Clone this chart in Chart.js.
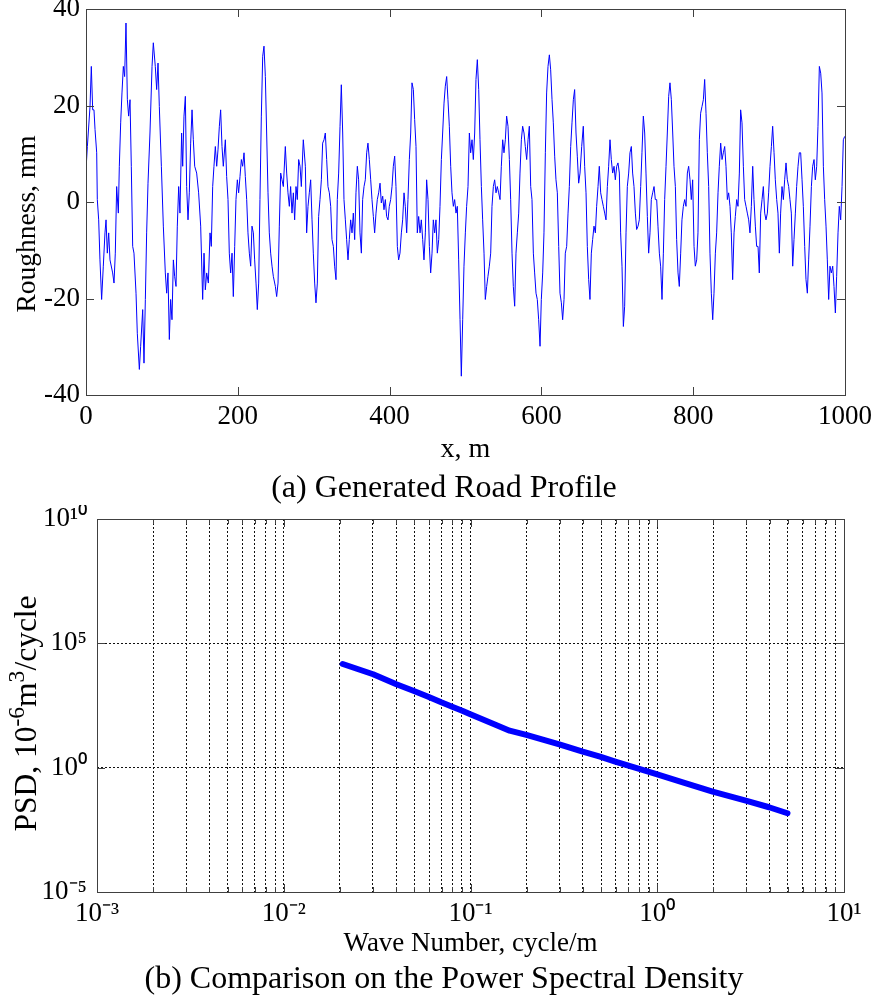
<!DOCTYPE html>
<html>
<head>
<meta charset="utf-8">
<script src="https://cdn.jsdelivr.net/npm/chart.js@4.4.1/dist/chart.umd.min.js"></script>
<style>
html,body{margin:0;padding:0;background:#fff;}
#wrap{position:relative;width:878px;height:1005px;overflow:hidden;}
#c1{position:absolute;left:0;top:0;}
#c2{position:absolute;left:0;top:505px;}
</style>
</head>
<body>
<div id="wrap">
<canvas id="c1" width="878" height="505"></canvas>
<canvas id="c2" width="878" height="500"></canvas>
</div>
<script>
// ---------- (a) Generated road profile ----------
const profileX = [
0.0,1.8,5.3,7.0,8.8,10.5,11.9,14.1,14.9,16.7,
18.4,20.6,22.8,25.0,26.4,28.1,29.9,31.6,35.1,36.9,
38.6,40.4,42.6,43.9,45.7,47.4,49.2,50.9,52.7,54.5,
56.2,58.0,59.7,61.5,63.2,65.9,67.6,70.3,72.0,74.7,
76.4,78.2,79.9,81.7,84.3,87.0,88.7,91.3,93.1,94.9,
96.6,99.3,101.9,104.5,106.3,108.0,109.8,111.5,113.3,115.1,
116.8,118.6,120.3,122.1,123.8,126.0,127.4,129.1,130.9,132.6,
134.4,136.1,137.9,139.7,141.4,143.2,145.8,148.4,151.1,153.7,
155.5,157.2,159.0,161.2,163.4,165.1,166.9,168.6,170.4,172.2,
173.9,175.7,177.4,179.2,180.9,183.6,185.3,187.1,188.8,190.6,
192.4,194.1,195.9,197.6,199.4,201.1,202.9,204.7,206.4,208.2,
209.9,211.7,213.4,215.2,217.0,218.7,220.5,222.2,224.0,225.7,
227.5,229.2,231.0,232.8,234.5,236.3,238.0,239.8,241.5,243.3,
245.1,246.8,249.5,251.2,253.0,254.7,256.5,258.2,260.0,262.6,
264.4,266.1,267.9,269.6,271.4,273.2,274.9,276.7,278.4,280.2,
282.0,283.7,286.3,289.0,290.7,292.5,294.2,296.0,297.8,299.5,
301.3,303.0,304.8,306.5,308.3,310.1,311.8,313.6,315.3,317.1,
318.8,320.6,322.4,324.1,325.9,327.6,329.4,331.1,332.9,334.7,
336.4,338.2,339.9,341.7,343.4,345.2,346.9,348.7,350.5,352.2,
354.0,355.7,357.5,359.2,361.0,362.8,364.5,366.3,368.0,369.8,
371.5,373.3,375.1,376.8,378.6,380.3,382.1,383.8,385.6,387.4,
389.1,390.9,392.6,394.4,396.1,397.9,399.6,401.4,403.2,404.9,
406.7,408.4,410.2,411.9,413.7,415.5,417.2,419.0,420.7,422.5,
424.2,426.0,427.8,429.5,431.3,433.0,434.8,436.5,438.3,440.1,
441.8,443.6,445.3,447.1,448.8,450.6,452.4,454.1,455.9,457.6,
459.4,461.1,462.9,464.7,466.4,468.2,469.9,471.7,473.4,475.2,
476.9,478.7,480.5,482.2,484.0,485.7,487.5,489.2,491.0,492.8,
494.5,496.3,498.0,499.8,501.5,503.3,505.1,506.8,508.6,510.3,
512.1,513.8,515.6,517.4,519.1,520.9,522.6,524.4,526.1,527.9,
529.6,531.4,533.2,534.9,536.7,538.4,540.2,541.9,543.7,545.5,
547.2,549.0,550.7,552.5,554.2,556.0,557.8,559.5,561.3,563.0,
564.8,566.5,568.3,570.1,571.8,573.6,575.3,577.1,578.8,580.6,
582.4,584.1,585.9,587.6,589.4,591.1,592.9,594.6,596.4,598.2,
599.9,601.7,603.4,605.2,606.9,608.7,610.5,612.2,614.0,615.7,
617.5,619.2,621.0,622.8,624.5,626.3,628.0,629.8,631.5,633.3,
635.1,636.8,638.6,640.3,642.1,643.8,645.6,647.3,649.1,
650.9,653.1,655.2,657.0,658.8,660.5,662.3,664.0,665.8,667.5,
669.3,671.1,672.8,674.6,676.3,678.1,679.8,681.6,683.4,685.1,
686.9,688.6,690.4,692.1,693.9,695.7,697.4,699.2,700.9,702.7,
704.4,706.2,708.0,709.7,711.5,713.2,715.0,716.7,718.5,720.2,
722.0,723.8,725.5,727.3,729.0,730.8,732.5,734.3,736.1,737.8,
739.6,741.3,743.1,744.8,746.6,748.4,750.1,751.9,753.6,755.4,
757.1,758.9,760.7,762.4,764.2,765.9,767.7,769.4,771.2,773.0,
774.7,776.5,778.2,780.0,781.7,783.5,785.2,787.0,788.8,790.5,
792.3,794.0,795.8,797.5,799.3,801.1,802.8,804.6,806.3,808.1,
809.8,811.6,813.4,815.1,816.9,818.6,820.4,822.1,823.9,825.7,
827.4,829.2,830.9,832.7,834.4,836.2,838.0,839.7,841.5,843.2,
845.0,846.7,848.5,850.2,852.0,853.8,855.5,857.3,859.0,860.8,
862.5,864.3,866.1,867.8,869.6,871.3,873.1,874.8,876.6,878.4,
880.1,881.9,883.6,885.4,887.1,888.9,890.7,892.4,894.2,895.9,
897.7,899.4,901.2,903.0,904.7,906.5,908.2,910.0,911.7,913.5,
915.2,917.0,918.8,920.5,922.3,924.0,925.8,927.5,929.3,931.1,
932.8,934.6,936.3,938.1,939.8,941.6,943.4,945.1,946.9,948.6,
950.4,952.1,953.9,955.7,957.4,959.2,960.9,962.7,964.4,966.2,
968.0,969.7,971.5,973.2,975.0,976.7,978.5,980.2,982.0,983.8,
985.5,987.3,989.0,990.8,992.5,994.3,996.1,997.8,999.6
];
const profileY = [
6.7,11.5,19.8,28.1,19.1,19.1,15.0,10.2,0.5,-3.7,
-12.0,-20.2,-13.3,-6.4,-3.7,-10.6,-6.4,-12.0,-14.7,-16.8,
-10.6,3.2,-2.3,7.4,16.4,22.6,28.1,26.0,37.1,21.2,
17.8,21.2,7.4,-9.2,-10.6,-18.9,-27.2,-34.7,-29.9,-22.3,
-33.4,-20.2,-6.4,3.9,14.3,28.1,33.0,28.1,23.3,28.8,
19.8,7.4,-5.0,-14.7,-18.9,-14.7,-28.5,-20.2,-24.4,-12.0,
-15.4,-17.5,-5.0,3.2,-2.3,14.3,7.4,17.8,21.9,3.2,
-3.7,1.9,12.2,19.1,12.9,7.4,6.0,1.9,-5.0,-20.2,
-10.6,-18.2,-14.7,-16.8,-6.4,-9.2,3.2,7.4,11.5,7.4,
10.8,15.7,19.1,11.5,7.4,12.9,5.3,0.5,-10.6,-14.7,
-10.6,-19.6,-9.2,0.5,4.6,1.9,5.3,8.8,7.4,10.2,
5.3,0.5,-6.4,-10.6,-13.3,-5.0,-6.4,-12.0,-16.8,-22.3,
-16.8,0.5,17.8,30.2,32.3,26.0,14.3,1.9,-6.4,-10.6,
-13.3,-15.4,-17.5,-19.6,-16.8,-5.0,6.0,4.6,3.2,11.5,
6.0,1.9,-0.9,3.2,-2.3,1.9,-3.7,3.2,0.5,8.8,
7.4,3.2,12.9,7.4,-6.4,-0.9,1.9,4.6,-3.7,-10.6,
-16.8,-20.9,-16.8,-3.0,0.5,4.6,12.2,12.9,14.3,8.8,
3.2,1.9,-0.9,-7.8,-9.2,-13.3,-16.1,0.5,6.0,15.7,
24.3,14.3,0.5,-3.7,-7.8,-12.0,-7.8,-3.7,-6.4,-2.3,
-7.8,1.9,7.4,4.6,-6.4,-10.6,0.5,3.2,4.6,10.2,
12.2,8.8,4.6,0.5,-3.0,-6.4,-2.3,0.5,1.9,3.9,
-0.2,1.2,-1.6,0.5,-3.0,-3.7,-0.9,0.5,3.2,7.4,
9.5,3.2,-9.2,-12.0,-10.6,-6.4,-3.7,1.9,-0.9,-6.4,
0.5,8.8,14.3,24.7,23.3,17.1,11.5,-6.4,-3.0,-6.4,
-3.7,-7.8,-12.0,-6.4,4.6,0.5,-9.2,-14.7,-10.6,-3.7,
-6.4,-3.7,-10.6,-7.8,-0.9,8.8,14.3,20.5,24.0,26.0,
21.2,15.7,7.4,1.9,-0.9,0.5,-2.3,-0.9,-12.0,-24.4,
-36.1,-24.4,-13.3,-6.4,-0.9,3.2,14.3,10.2,12.9,8.8,
14.3,25.4,29.5,23.3,12.9,3.2,-3.7,-10.6,-20.2,-17.5,
-15.4,-13.3,-10.6,-0.9,3.2,4.6,1.9,3.2,1.9,0.5,
7.4,12.9,10.2,12.9,17.8,15.7,8.8,0.5,-10.6,-17.5,
-21.6,-10.6,-6.4,-2.3,6.0,12.9,15.7,14.3,11.5,8.8,
12.9,15.7,3.2,0.5,-10.6,-14.7,-18.9,-20.2,-24.4,-29.9,
-20.2,-14.7,-6.4,10.2,22.6,28.1,30.5,27.4,21.2,16.4,
9.5,4.6,1.9,-9.2,-18.9,-20.9,-24.4,-20.2,-10.6,-9.2,
-2.3,3.2,11.5,16.4,21.2,23.3,14.3,9.5,3.9,
6.0,11.5,15.7,7.4,1.9,-9.2,-16.1,-20.2,-10.6,-7.8,
-5.0,-6.4,-0.9,3.2,7.4,1.9,0.5,-0.9,-2.3,-3.7,
3.2,7.4,12.9,8.8,6.0,7.4,4.6,7.4,8.1,6.0,
-6.4,-13.3,-25.8,-21.6,-6.4,3.2,6.0,10.2,11.5,6.0,
3.2,-2.3,-5.7,-5.0,-3.7,3.2,10.2,17.8,14.3,6.0,
-3.0,-10.6,-6.4,0.5,1.9,3.2,0.5,0.5,-5.0,-10.6,
-13.3,-20.2,-10.6,0.5,7.4,14.3,21.9,24.7,21.2,14.3,
7.4,3.2,-7.8,-14.7,-17.5,-10.6,-3.7,-0.9,0.5,-0.9,
6.0,7.4,4.6,0.5,4.6,-9.2,-13.3,-12.0,-6.4,12.9,
18.4,19.8,21.2,25.4,18.4,10.2,3.2,-10.6,-18.9,-24.4,
-18.9,-10.6,-6.4,1.9,7.4,12.2,8.8,10.2,11.5,7.4,
0.5,1.9,-0.9,-6.4,-16.1,-6.4,-3.0,0.5,-0.9,6.0,
19.1,16.4,7.4,0.5,-0.9,-2.3,-3.7,-6.4,-0.9,7.4,
0.5,-5.0,-9.2,-9.2,-14.7,-2.3,0.5,3.2,-2.3,-3.7,
-2.3,1.9,7.4,11.5,15.7,10.2,4.6,0.5,-2.3,-10.6,
-2.3,3.2,0.5,4.6,8.1,4.6,3.2,0.5,-2.3,-13.3,
-7.8,-2.3,3.2,7.4,10.2,10.2,4.6,-0.9,-9.2,-16.1,
-18.9,-12.0,-5.0,3.2,7.4,8.8,4.6,7.4,15.7,28.1,
26.7,22.6,7.4,0.5,-5.0,-12.0,-20.2,-13.3,-14.7,-13.3,
-17.5,-23.0,-15.4,-6.4,-0.9,-3.7,3.2,12.9,13.6
];
const profileXTicks = [0, 200, 400, 600, 800, 1000];
const profileYTicks = [-40, -20, 0, 20, 40];

// ---------- (b) Power spectral density ----------
const psdWaveNumber = [0.0207,0.0301,0.0401,0.0498,0.0594,0.0697,0.0798,0.0903,0.0991,0.137,0.162,0.199,0.299,0.399,0.494,0.596,0.708,0.801,1.00,1.37,1.98,2.98,3.97,4.98];
const psdValue      = [14800,5700,2250,1210,716,427,284,196,144,52.1,30.8,20.7,8.73,4.40,2.77,1.74,1.17,0.887,0.533,0.259,0.108,0.0471,0.0256,0.0147];
const psdXDecades = [0.001, 0.01, 0.1, 1, 10];
const psdXDecadeLabels = ['10\u207B\u00B3', '10\u207B\u00B2', '10\u207B\u00B9', '10\u2070', '10\u00B9'];
const psdXMinorSteps = [1, 2, 3, 4, 5, 6, 7, 8, 9];
const psdYTicks = [1e-5, 1, 1e5, 1e10];
const psdYTickLabels = ['10\u207B\u2075', '10\u2070', '10\u2075', '10\u00B9\u2070'];

const captionA = '(a) Generated Road Profile';
const captionB = '(b) Comparison on the Power Spectral Density';
const xTitleA = 'x, m';
const yTitleA = [{text: 'Roughness, mm'}];
const xTitleB = 'Wave Number, cycle/m';
const yTitleB = [{text: 'PSD, 10'}, {text: '-6', sup: true}, {text: 'm'}, {text: '3', sup: true}, {text: '/cycle'}];

const FONT = "'Liberation Serif','Times New Roman',serif";
Chart.defaults.font.family = FONT;
Chart.defaults.color = '#000';

// Frame + inward tick marks (MATLAB style), drawn from the scales themselves
const frameTicks = {
  id: 'frameTicks',
  afterDatasetsDraw(chart, args, opts) {
    const {ctx, chartArea: a} = chart;
    ctx.save();
    ctx.setLineDash([]);
    ctx.lineWidth = 1;
    ctx.strokeStyle = opts.color || '#404040';
    const xs = chart.scales.x, ys = chart.scales.y;
    const isMaj = opts.isMajor || (() => true);
    ctx.beginPath();
    xs.ticks.forEach(t => {
      const p = Math.round(xs.getPixelForValue(t.value)) + 0.5;
      if (p <= a.left + 1 || p >= a.right - 1) return;
      const len = isMaj(t.value, 'x') ? opts.majorLen : opts.minorLen;
      ctx.moveTo(p, a.bottom); ctx.lineTo(p, a.bottom - len);
      ctx.moveTo(p, a.top); ctx.lineTo(p, a.top + len);
    });
    ys.ticks.forEach(t => {
      const p = Math.round(ys.getPixelForValue(t.value)) + 0.5;
      if (p <= a.top + 1 || p >= a.bottom - 1) return;
      const len = isMaj(t.value, 'y') ? opts.majorLen : opts.minorLen;
      ctx.moveTo(a.left, p); ctx.lineTo(a.left + len, p);
      ctx.moveTo(a.right, p); ctx.lineTo(a.right - len, p);
    });
    ctx.stroke();
    ctx.strokeRect(Math.round(a.left) + 0.5, Math.round(a.top) + 0.5,
                   Math.round(a.right - a.left), Math.round(a.bottom - a.top));
    ctx.restore();
  }
};

// Rotated y-axis title with real superscripts, placed relative to the y scale
const yAxisTitle = {
  id: 'yAxisTitle',
  afterDraw(chart, args, o) {
    if (!o.segments) return;
    const s = chart.scales.y, ctx = chart.ctx;
    const supSize = o.size * o.supScale;
    ctx.save();
    let total = 0;
    const w = o.segments.map(g => {
      ctx.font = (g.sup ? supSize : o.size) + 'px ' + FONT;
      const m = ctx.measureText(g.text).width;
      total += m;
      return m;
    });
    ctx.translate(o.baselineX, (s.top + s.bottom) / 2 + o.offsetY);
    ctx.rotate(-Math.PI / 2);
    ctx.textAlign = 'left';
    ctx.textBaseline = 'alphabetic';
    ctx.fillStyle = '#000';
    let x = -total / 2;
    o.segments.forEach((g, i) => {
      ctx.font = (g.sup ? supSize : o.size) + 'px ' + FONT;
      ctx.fillText(g.text, x, g.sup ? -o.size * o.supRaise : 0);
      x += w[i];
    });
    ctx.restore();
  }
};

// empty right-hand spacer axis (keeps the caption centred like the original)
const spacerAxis = w => ({
  type: 'linear', position: 'right', display: true,
  grid: {display: false, drawTicks: false},
  ticks: {display: false},
  border: {display: false},
  afterFit: s => { s.width = w; s.paddingTop = 0; s.paddingBottom = 0; }
});

// ----- Chart (a)
new Chart(document.getElementById('c1'), {
  type: 'line',
  data: {
    datasets: [{
      data: profileX.map((x, i) => ({x: x, y: profileY[i]})),
      borderColor: '#0000ff',
      borderWidth: 1,
      pointRadius: 0,
      tension: 0
    }]
  },
  options: {
    responsive: false,
    animation: false,
    events: [],
    layout: {padding: {top: 9, right: 0, left: 10, bottom: 0}},
    plugins: {
      legend: {display: false},
      tooltip: {enabled: false},
      title: {
        display: true, position: 'bottom', text: captionA, color: '#000',
        font: {family: FONT, size: 32, weight: 'normal', lineHeight: 1.0},
        padding: {top: 0, bottom: 0}
      },
      frameTicks: {color: '#404040', majorLen: 8, minorLen: 8},
      yAxisTitle: {segments: yTitleA, size: 27.5, supScale: 0.7, supRaise: 0.38, baselineX: 35, offsetY: 22}
    },
    scales: {
      x: {
        type: 'linear', min: 0, max: 1000,
        afterBuildTicks: s => { s.ticks = profileXTicks.map(v => ({value: v})); },
        ticks: {font: {family: FONT, size: 27, lineHeight: 1.2}, color: '#000', padding: 6, maxRotation: 0, autoSkip: false,
                callback: v => String(v)},
        grid: {display: false, drawTicks: false},
        border: {display: false},
        title: {display: true, text: xTitleA, color: '#000', font: {family: FONT, size: 28, lineHeight: 1.2}, padding: {top: 0, bottom: 7}},
        afterFit: s => { s.height = 78; s.paddingLeft = 0; s.paddingRight = 0; }
      },
      y: {
        type: 'linear', min: -40, max: 40,
        afterBuildTicks: s => { s.ticks = profileYTicks.map(v => ({value: v})); },
        ticks: {font: {family: FONT, size: 27, lineHeight: 1.2}, color: '#000', padding: 6, callback: v => String(v)},
        grid: {display: false, drawTicks: false},
        border: {display: false},
        title: {display: false},
        afterFit: s => { s.width = 76; s.paddingTop = 0; s.paddingBottom = 0; }
      },
      yRight: spacerAxis(33)
    }
  },
  plugins: [frameTicks, yAxisTitle]
});

// ----- Chart (b)
const isPow10 = v => Math.abs(Math.log10(v) - Math.round(Math.log10(v))) < 1e-6;
const psdXTicks = [];
psdXDecades.slice(0, -1).forEach(d => psdXMinorSteps.forEach(k => psdXTicks.push(k * d)));
psdXTicks.push(psdXDecades[psdXDecades.length - 1]);

const psdPoints = psdWaveNumber.map((n, i) => ({x: n, y: psdValue[i]}));

new Chart(document.getElementById('c2'), {
  type: 'line',
  data: {
    datasets: [
      {
        label: 'Theory', data: psdPoints, borderColor: '#ff0000', borderWidth: 1.5,
        pointRadius: 0, tension: 0, order: 2
      },
      {
        label: 'Generated', data: psdPoints, borderColor: '#0000ff', borderWidth: 6,
        borderCapStyle: 'round', borderJoinStyle: 'round',
        pointRadius: 0, tension: 0, order: 1
      }
    ]
  },
  options: {
    responsive: false,
    animation: false,
    events: [],
    layout: {padding: {top: 14, right: 0, left: 10, bottom: 0}},
    plugins: {
      legend: {display: false},
      tooltip: {enabled: false},
      title: {
        display: true, position: 'bottom', text: captionB, color: '#000',
        font: {family: FONT, size: 32, weight: 'normal', lineHeight: 1.2},
        padding: {top: 0, bottom: 6}
      },
      frameTicks: {
        color: '#404040', majorLen: 8, minorLen: 5,
        isMajor: (v, ax) => ax === 'y' ? true : isPow10(v)
      },
      yAxisTitle: {segments: yTitleB, size: 31.5, supScale: 0.75, supRaise: 0.38, baselineX: 36, offsetY: 8}
    },
    scales: {
      x: {
        type: 'logarithmic', min: 0.001, max: 10,
        afterBuildTicks: s => { s.ticks = psdXTicks.map(v => ({value: v})); },
        ticks: {
          font: {family: FONT, size: 27, lineHeight: 1.2}, color: '#000', padding: 6,
          maxRotation: 0, autoSkip: false,
          callback: v => {
            const i = psdXDecades.findIndex(d => Math.abs(Math.log10(d) - Math.log10(v)) < 1e-6);
            return i >= 0 ? psdXDecadeLabels[i] : '';
          }
        },
        grid: {display: true, drawTicks: false, color: '#111', lineWidth: 1},
        border: {display: false, dash: [2, 2]},
        title: {display: true, text: xTitleB, color: '#000', font: {family: FONT, size: 27, lineHeight: 1.2}, padding: {top: 0, bottom: 0}},
        afterFit: s => { s.height = 68.6; s.paddingLeft = 0; s.paddingRight = 0; }
      },
      y: {
        type: 'logarithmic', min: 1e-5, max: 1e10,
        afterBuildTicks: s => { s.ticks = psdYTicks.map(v => ({value: v})); },
        ticks: {
          font: {family: FONT, size: 27, lineHeight: 1.2}, color: '#000', padding: 10, autoSkip: false,
          callback: v => {
            const i = psdYTicks.findIndex(d => Math.abs(Math.log10(d) - Math.log10(v)) < 1e-6);
            return i >= 0 ? psdYTickLabels[i] : '';
          }
        },
        grid: {display: true, drawTicks: false, color: '#111', lineWidth: 1},
        border: {display: false, dash: [2, 2]},
        title: {display: false},
        afterFit: s => { s.width = 87; s.paddingTop = 0; s.paddingBottom = 0; }
      },
      yRight: spacerAxis(34)
    }
  },
  plugins: [frameTicks, yAxisTitle]
});
</script>
</body>
</html>
